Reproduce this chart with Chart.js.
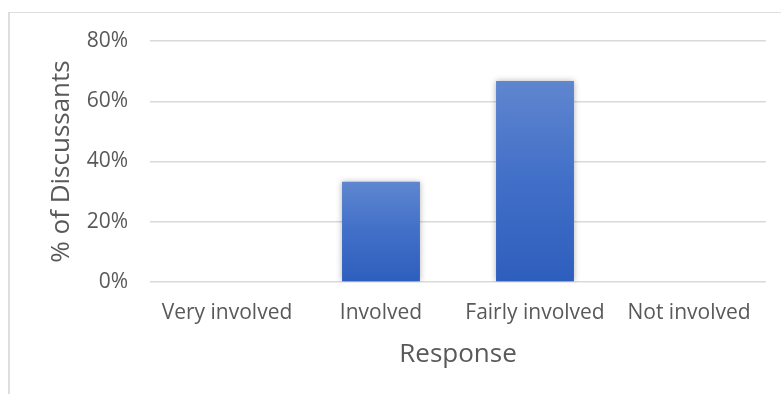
<!DOCTYPE html>
<html>
<head>
<meta charset="utf-8">
<script src="https://cdn.jsdelivr.net/npm/chart.js@4"></script>
<style>
  html, body { margin: 0; padding: 0; background: #fff; overflow: hidden; }
  #wrap { position: relative; width: 781px; height: 394px; }
  #frame { position: absolute; left: 8px; top: 12px; width: 800px; height: 400px;
           border-left: 2px solid #dedede; border-top: 1px solid #dedede; }
  canvas { position: absolute; left: 0; top: 0; }
</style>
</head>
<body>
<div id="wrap">
  <div id="frame"></div>
  <canvas id="responseChart" width="781" height="394"></canvas>
</div>
<script>
// data
const responses = ['Very involved', 'Involved', 'Fairly involved', 'Not involved'];
const percentDiscussants = [0, 33.3, 66.7, 0];
const yTicks = [0, 20, 40, 60, 80];

const font = '"Open Sans", sans-serif';

// gradient per bar, from its top down to the baseline
function barGradient(context) {
    const chart = context.chart;
    const y = chart.scales.y;
    if (!y) return '#3f6fca';
    const top = y.getPixelForValue(context.raw);
    const base = y.getPixelForValue(0);
    if (!isFinite(top) || base - top < 1) return '#3f6fca';
    const g = chart.ctx.createLinearGradient(0, top, 0, base);
    g.addColorStop(0, '#5f86cf');
    g.addColorStop(0.5, '#416fc8');
    g.addColorStop(1, '#2e5ebd');
    return g;
}

// soft shadow like the original bars
const barShadow = {
    id: 'barShadow',
    beforeDatasetsDraw(chart) {
        const ctx = chart.ctx;
        ctx.save();
        ctx.shadowColor = 'rgba(0, 0, 0, 0.3)';
        ctx.shadowBlur = 6;
    },
    afterDatasetsDraw(chart) {
        chart.ctx.restore();
    }
};

const ctx = document.getElementById('responseChart').getContext('2d');
new Chart(ctx, {
    type: 'bar',
    data: {
        labels: responses,
        datasets: [{
            label: '% of Discussants',
            data: percentDiscussants,
            backgroundColor: barGradient,
            borderWidth: 0,
            categoryPercentage: 1,
            barPercentage: 0.506
        }]
    },
    options: {
        responsive: false,
        animation: false,
        devicePixelRatio: 1,
        layout: {
            padding: { top: 41, right: 15, bottom: 0, left: 0 }
        },
        plugins: {
            legend: { display: false },
            tooltip: { enabled: false }
        },
        scales: {
            x: {
                grid: { display: false, drawTicks: false },
                border: { display: false },
                ticks: {
                    color: '#595959',
                    font: { family: font, size: 21 },
                    padding: 18,
                    maxRotation: 0,
                    autoSkip: false
                },
                title: {
                    display: true,
                    text: 'Response',
                    color: '#595959',
                    font: { family: font, size: 26 },
                    padding: { top: 0, bottom: 24 }
                },
                afterFit: function(scale) { scale.height = 112; }
            },
            y: {
                min: 0,
                max: 80,
                afterBuildTicks: function(scale) {
                    scale.ticks = yTicks.map(v => ({ value: v }));
                },
                grid: { color: '#d9d9d9', lineWidth: 1.5, drawTicks: false },
                border: { display: false },
                ticks: {
                    color: '#595959',
                    font: { family: font, size: 21 },
                    padding: 22,
                    callback: function(value) { return value + '%'; }
                },
                title: {
                    display: true,
                    text: '% of Discussants',
                    color: '#595959',
                    font: { family: font, size: 26 },
                    padding: { top: 46, bottom: 0 }
                },
                afterFit: function(scale) { scale.width = 150; }
            }
        }
    },
    plugins: [barShadow]
});
</script>
</body>
</html>
